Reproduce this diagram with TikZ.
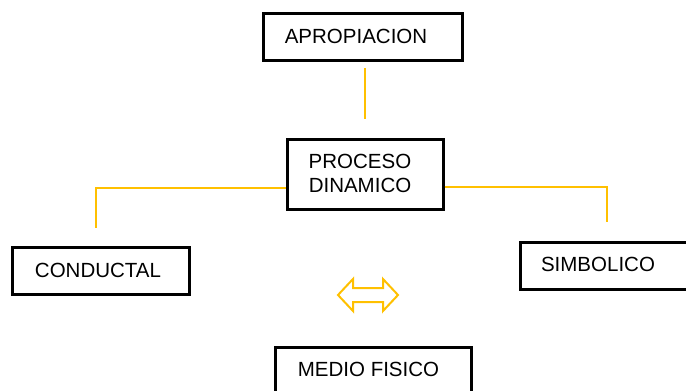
\documentclass[tikz,border=0pt]{standalone}
\usepackage{fontspec}
\setmainfont{Liberation Sans}
\definecolor{linkyellow}{HTML}{FFC000}
\begin{document}
\begin{tikzpicture}[x=1pt,y=-1pt,
  box/.style={draw=black, line width=2.6pt, rectangle, inner sep=0pt, anchor=north west},
  lbl/.style={font=\fontsize{20.5}{24}\selectfont, inner sep=0pt, align=center, text=black},
  link/.style={draw=linkyellow, line width=2.2pt}]
\useasboundingbox (0,0) rectangle (686,391);
\clip (0,0) rectangle (686,391);
% boxes
\node[box, minimum width=199pt, minimum height=47pt] (aprbox) at (262,12) {};
\node[lbl] (aprtxt) at (356,36) {APROPIACION};
\node[box, minimum width=156pt, minimum height=70pt] (probox) at (286,138) {};
\node[lbl] (protxt) at (360,173.5) {PROCESO\\DINAMICO};
\node[box, minimum width=177pt, minimum height=47pt] (conbox) at (11,246) {};
\node[lbl] (contxt) at (98,270) {CONDUCTAL};
\node[box, minimum width=172pt, minimum height=47pt] (simbox) at (519,241) {};
\node[lbl] (simtxt) at (598,264) {SIMBOLICO};
\node[box, minimum width=196pt, minimum height=60pt] (medbox) at (274,346) {};
\node[lbl] (medtxt) at (368.5,369.5) {MEDIO FISICO};
% connectors
\coordinate (aprtop) at (365,68);
\coordinate (aprbot) at (365,119);
\draw[link] (aprtop) -- (aprbot);
\coordinate (conend) at (96,228);
\draw[link] (probox.west |- 0,188) -- (96,188) -- (conend);
\coordinate (simend) at (607,222);
\draw[link] (probox.east |- 0,187) -- (607,187) -- (simend);
% double arrow
\draw[draw=linkyellow, line width=2pt, line join=miter]
  (338,295) -- (353,279) -- (353,288) -- (383,288) -- (383,279) -- (398,295)
  -- (383,311) -- (383,302) -- (353,302) -- (353,311) -- cycle;
\end{tikzpicture}
\end{document}
